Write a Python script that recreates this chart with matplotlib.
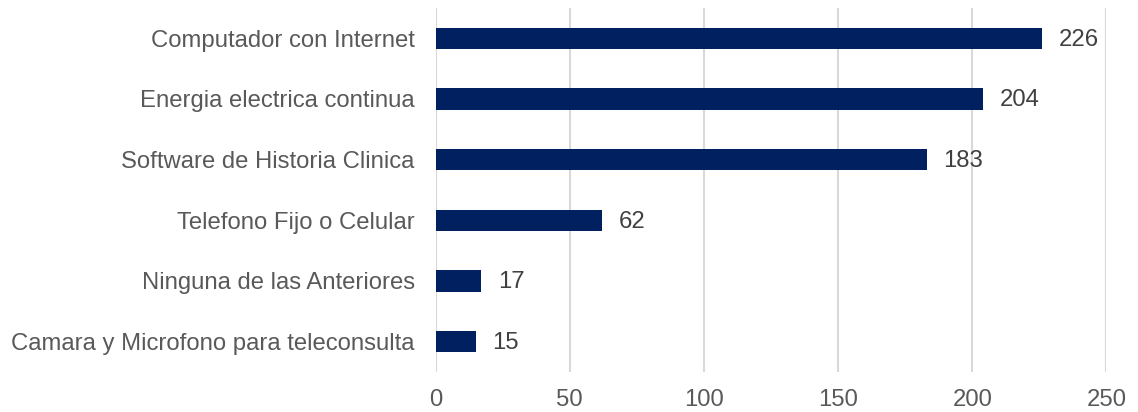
import matplotlib.pyplot as plt

plt.rcParams['font.family'] = ['Liberation Sans', 'DejaVu Sans']

categorias = [
    "Camara y Microfono para teleconsulta",
    "Ninguna de las Anteriores",
    "Telefono Fijo o Celular",
    "Software de Historia Clinica",
    "Energia electrica continua",
    "Computador con Internet",
]
valores = [15, 17, 62, 183, 204, 226]
ticks_x = [0, 50, 100, 150, 200, 250]

fig = plt.figure(figsize=(11.38, 4.12), dpi=100)
ax = fig.add_axes([0.3827, 0.0971, 0.9723 - 0.3827, 0.9806 - 0.0971])

pos = range(len(categorias))
bars = ax.barh(pos, valores, height=0.356, color="#002060", zorder=3)

for b, v in zip(bars, valores):
    ax.annotate(str(v), (b.get_width(), b.get_y() + b.get_height() / 2),
                xytext=(12, -1), textcoords="offset points",
                va="center", ha="left", fontsize=17.2, color="#404040")

ax.set_xlim(0, 250)
ax.set_ylim(-0.5, 5.5)
ax.set_xticks(ticks_x)
ax.set_yticks(list(pos))
ax.set_yticklabels(categorias)
ax.grid(axis="x", color="#d9d9d9", linewidth=1.5, zorder=0)
for s in ax.spines.values():
    s.set_visible(False)
ax.tick_params(axis="both", length=0, labelsize=17.2, labelcolor="#595959")
ax.tick_params(axis="y", pad=15)
ax.tick_params(axis="x", pad=12)

fig.savefig("out.png", dpi=100)
